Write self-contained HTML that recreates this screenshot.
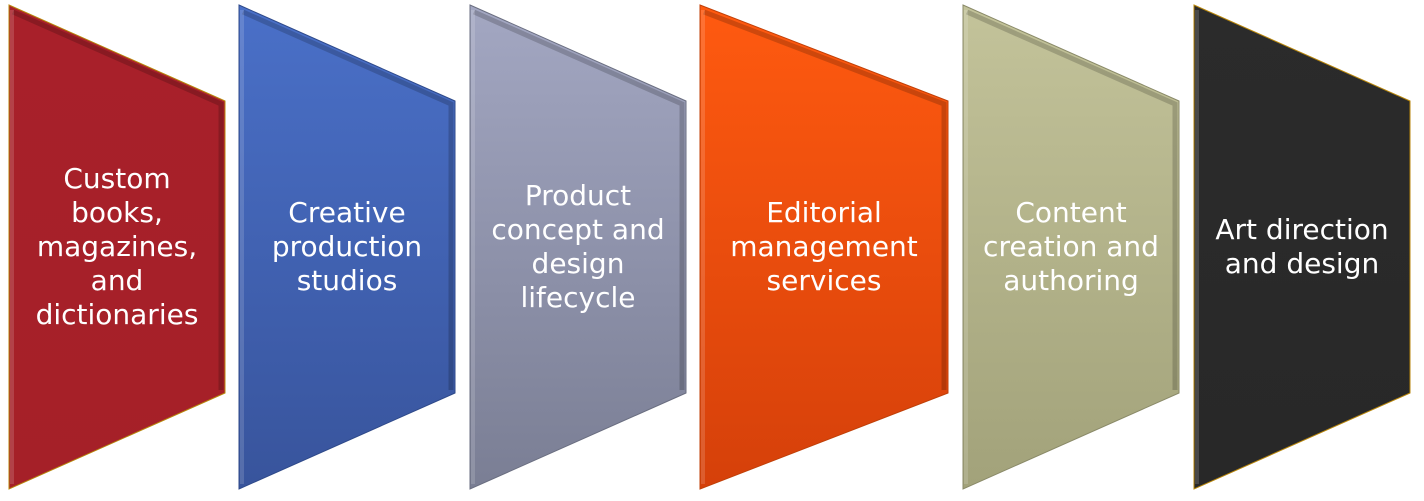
<!DOCTYPE html>
<html><head><meta charset="utf-8"><style>
html,body{margin:0;padding:0;background:#fff;width:1424px;height:501px;overflow:hidden}
svg{display:block}
text{font-family:"DejaVu Sans","Liberation Sans",sans-serif;font-size:28px;fill:#fff;text-anchor:middle}
</style></head><body>
<svg width="1424" height="501" viewBox="0 0 1424 501">
<defs>
<linearGradient id="g1" x1="0" y1="0" x2="0" y2="1"><stop offset="0" stop-color="#a8202a"/><stop offset="1" stop-color="#a52028"/></linearGradient>
<linearGradient id="g2" x1="0" y1="0" x2="0" y2="1"><stop offset="0" stop-color="#4a70c8"/><stop offset="1" stop-color="#38549c"/></linearGradient>
<linearGradient id="g3" x1="0" y1="0" x2="0" y2="1"><stop offset="0" stop-color="#a3a7c2"/><stop offset="1" stop-color="#7a7e94"/></linearGradient>
<linearGradient id="g4" x1="0" y1="0" x2="0" y2="1"><stop offset="0" stop-color="#ff5a10"/><stop offset="1" stop-color="#d5400a"/></linearGradient>
<linearGradient id="g5" x1="0" y1="0" x2="0" y2="1"><stop offset="0" stop-color="#c3c39a"/><stop offset="1" stop-color="#a2a27a"/></linearGradient>
<linearGradient id="g6" x1="0" y1="0" x2="0" y2="1"><stop offset="0" stop-color="#2b2b2b"/><stop offset="1" stop-color="#282828"/></linearGradient>
</defs>
<g stroke-width="1">
<polygon points="9,5 225,101 225,393 9,489" fill="url(#g1)" stroke="#b8860b"/>
<polygon points="239,5 455,101 455,393 239,489" fill="url(#g2)" stroke="#2f4a8a"/>
<polygon points="470,5 686,101 686,393 470,489" fill="url(#g3)" stroke="#6a6e80"/>
<polygon points="700,5 948,101 948,393 700,489" fill="url(#g4)" stroke="#c04008"/>
<polygon points="963,5 1179,101 1179,393 963,489" fill="url(#g5)" stroke="#8a8a68"/>
<polygon points="1194,5 1410,101 1410,393 1194,489" fill="url(#g6)" stroke="#b8860b"/>
</g>
<g fill="none" stroke-width="5" opacity="0.18" stroke="#000">
<polyline points="13,12 221,104 221,390"/><polyline points="243,12 451,104 451,390"/><polyline points="474,12 682,104 682,390"/><polyline points="704,12 944,104 944,390"/><polyline points="967,12 1175,104 1175,390"/>
</g>
<g fill="none" stroke-width="4" opacity="0.15" stroke="#fff">
<line x1="12" y1="10" x2="12" y2="484"/><line x1="242" y1="10" x2="242" y2="484"/><line x1="473" y1="10" x2="473" y2="484"/><line x1="703" y1="10" x2="703" y2="484"/><line x1="966" y1="10" x2="966" y2="484"/><line x1="1197" y1="10" x2="1197" y2="484"/>
</g>
<text x="117" y="188">Custom</text><text x="117" y="222">books,</text><text x="117" y="256">magazines,</text><text x="117" y="290">and</text><text x="117" y="324">dictionaries</text>
<text x="347" y="222">Creative</text><text x="347" y="256">production</text><text x="347" y="290">studios</text>
<text x="578" y="205">Product</text><text x="578" y="239">concept and</text><text x="578" y="273">design</text><text x="578" y="307">lifecycle</text>
<text x="824" y="222">Editorial</text><text x="824" y="256">management</text><text x="824" y="290">services</text>
<text x="1071" y="222">Content</text><text x="1071" y="256">creation and</text><text x="1071" y="290">authoring</text>
<text x="1302" y="239">Art direction</text><text x="1302" y="273">and design</text>
</svg>
</body></html>
